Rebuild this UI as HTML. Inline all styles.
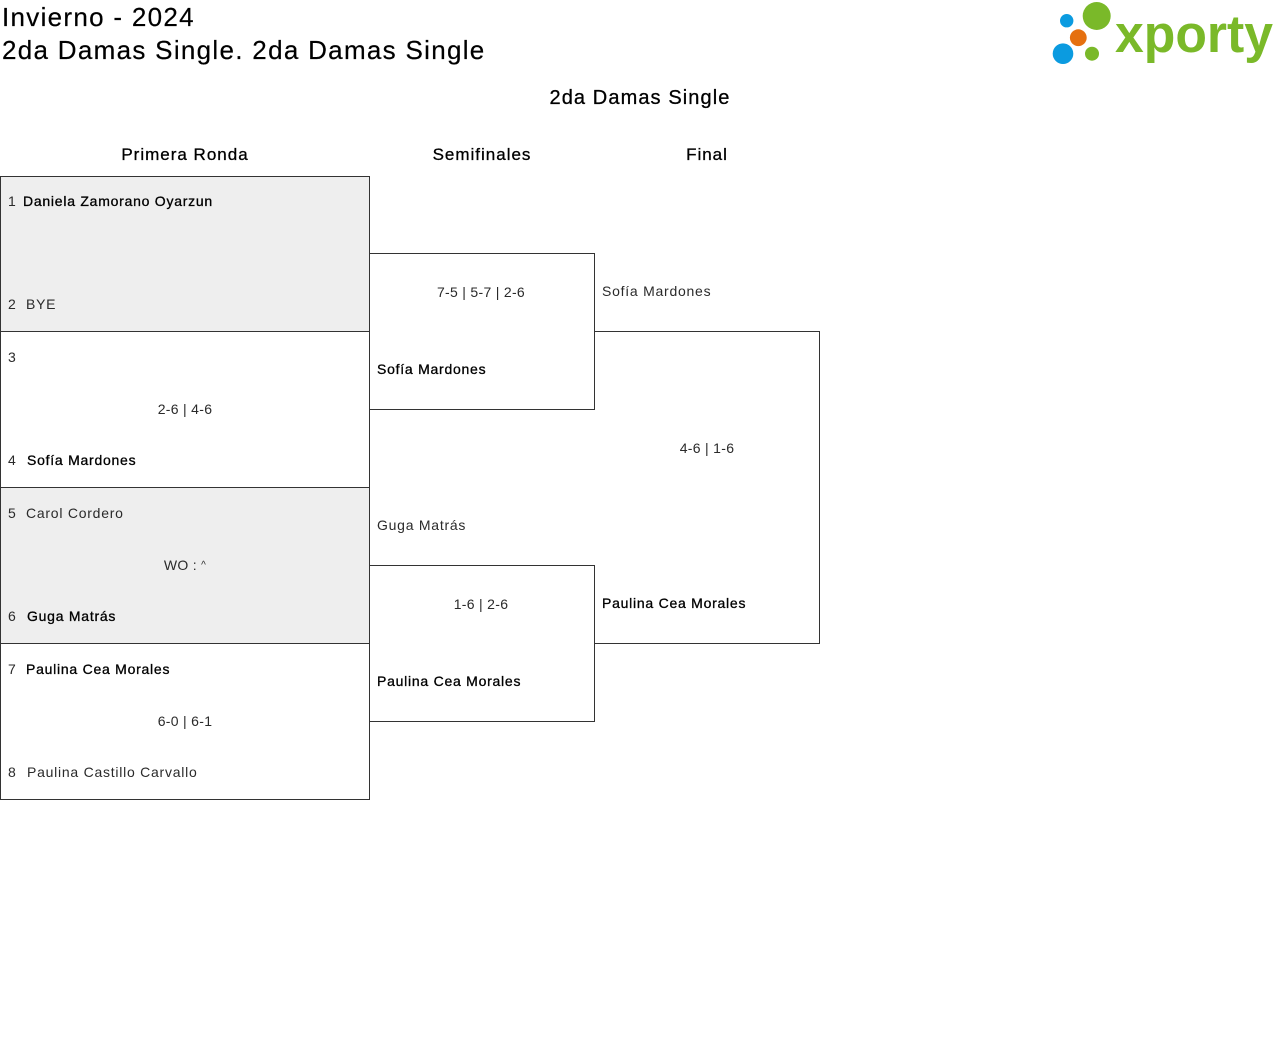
<!DOCTYPE html>
<html>
<head>
<meta charset="utf-8">
<style>
  html,body{margin:0;padding:0;background:#fff;}
  body{width:1280px;height:1049px;position:relative;overflow:hidden;font-family:"Liberation Sans",Arial,sans-serif;color:#222;}
  .t{position:absolute;white-space:nowrap;font-size:14px;line-height:20px;height:20px;letter-spacing:0.75px;color:#2a2a2a;margin-top:-1px;}
  .m{color:#000;-webkit-text-stroke:0.3px #000;}
  .c{text-align:center;width:300px;letter-spacing:0.3px;}
  .h{position:absolute;white-space:nowrap;font-size:17px;line-height:24px;height:24px;letter-spacing:1px;color:#000;-webkit-text-stroke:0.3px #000;text-align:center;width:300px;}
  .title{position:absolute;left:2px;white-space:nowrap;font-size:26px;line-height:32px;letter-spacing:1.3px;color:#000;-webkit-text-stroke:0.2px #000;}
  .n{position:absolute;font-size:14px;line-height:20px;color:#2a2a2a;margin-top:-1px;}
</style>
</head>
<body>
<svg width="1280" height="1049" style="position:absolute;left:0;top:0" shape-rendering="crispEdges">
  <rect x="0" y="176" width="370" height="155" fill="#eeeeee"/>
  <rect x="0" y="487" width="370" height="156" fill="#eeeeee"/>
  <g stroke="#333" stroke-width="1" fill="none">
    <line x1="0" y1="176.5" x2="370" y2="176.5"/>
    <line x1="0" y1="331.5" x2="370" y2="331.5"/>
    <line x1="0" y1="487.5" x2="370" y2="487.5"/>
    <line x1="0" y1="643.5" x2="370" y2="643.5"/>
    <line x1="0" y1="799.5" x2="370" y2="799.5"/>
    <line x1="0.5" y1="176" x2="0.5" y2="800"/>
    <line x1="369.5" y1="176" x2="369.5" y2="800"/>
    <line x1="369" y1="253.5" x2="595" y2="253.5"/>
    <line x1="369" y1="409.5" x2="595" y2="409.5"/>
    <line x1="594.5" y1="253" x2="594.5" y2="410"/>
    <line x1="369" y1="565.5" x2="595" y2="565.5"/>
    <line x1="369" y1="721.5" x2="595" y2="721.5"/>
    <line x1="594.5" y1="565" x2="594.5" y2="722"/>
    <line x1="594" y1="331.5" x2="820" y2="331.5"/>
    <line x1="594" y1="643.5" x2="820" y2="643.5"/>
    <line x1="819.5" y1="331" x2="819.5" y2="644"/>
  </g>
  <!-- logo -->
  <g shape-rendering="auto">
    <circle cx="1066.7" cy="20.7" r="6.7" fill="#0b9be0"/>
    <circle cx="1096.7" cy="16" r="14" fill="#7ab929"/>
    <circle cx="1078.3" cy="37.7" r="8.4" fill="#e5700f"/>
    <circle cx="1063" cy="53.7" r="10.3" fill="#0b9be0"/>
    <circle cx="1092" cy="53.7" r="7" fill="#7ab929"/>
    <text x="1115" y="52" font-family="Liberation Sans, Arial, sans-serif" font-weight="bold" font-size="53" fill="#7ab929" textLength="158" lengthAdjust="spacingAndGlyphs">xporty</text>
  </g>
</svg>

<div class="title" style="top:1px;">Invierno - 2024</div>
<div class="title" style="top:34px;">2da Damas Single. 2da Damas Single</div>

<div class="h" style="left:490px;top:85px;width:300px;font-size:20px;line-height:26px;letter-spacing:1.1px;">2da Damas Single</div>
<div class="h" style="left:35px;top:143px;">Primera Ronda</div>
<div class="h" style="left:332px;top:143px;">Semifinales</div>
<div class="h" style="left:557px;top:143px;">Final</div>

<!-- Round 1 -->
<div class="n" style="left:8px;top:192px;">1</div>
<div class="t m" style="left:23px;top:192px;">Daniela Zamorano Oyarzun</div>
<div class="n" style="left:8px;top:295px;">2</div>
<div class="t" style="left:26px;top:295px;">BYE</div>

<div class="n" style="left:8px;top:348px;">3</div>
<div class="t c" style="left:35px;top:400px;">2-6 | 4-6</div>
<div class="n" style="left:8px;top:451px;">4</div>
<div class="t m" style="left:27px;top:451px;">Sofía Mardones</div>

<div class="n" style="left:8px;top:504px;">5</div>
<div class="t" style="left:26px;top:504px;">Carol Cordero</div>
<div class="t c" style="left:35px;top:556px;">WO : <span style="font-size:10px;position:relative;top:-2px;">^</span></div>
<div class="n" style="left:8px;top:607px;">6</div>
<div class="t m" style="left:27px;top:607px;">Guga Matrás</div>

<div class="n" style="left:8px;top:660px;">7</div>
<div class="t m" style="left:26px;top:660px;">Paulina Cea Morales</div>
<div class="t c" style="left:35px;top:712px;">6-0 | 6-1</div>
<div class="n" style="left:8px;top:763px;">8</div>
<div class="t" style="left:27px;top:763px;">Paulina Castillo Carvallo</div>

<!-- Semis -->
<div class="t c" style="left:331px;top:283px;">7-5 | 5-7 | 2-6</div>
<div class="t m" style="left:377px;top:360px;">Sofía Mardones</div>
<div class="t" style="left:377px;top:516px;">Guga Matrás</div>
<div class="t c" style="left:331px;top:595px;">1-6 | 2-6</div>
<div class="t m" style="left:377px;top:672px;">Paulina Cea Morales</div>

<!-- Final -->
<div class="t" style="left:602px;top:282px;">Sofía Mardones</div>
<div class="t c" style="left:557px;top:439px;">4-6 | 1-6</div>
<div class="t m" style="left:602px;top:594px;">Paulina Cea Morales</div>
</body>
</html>
